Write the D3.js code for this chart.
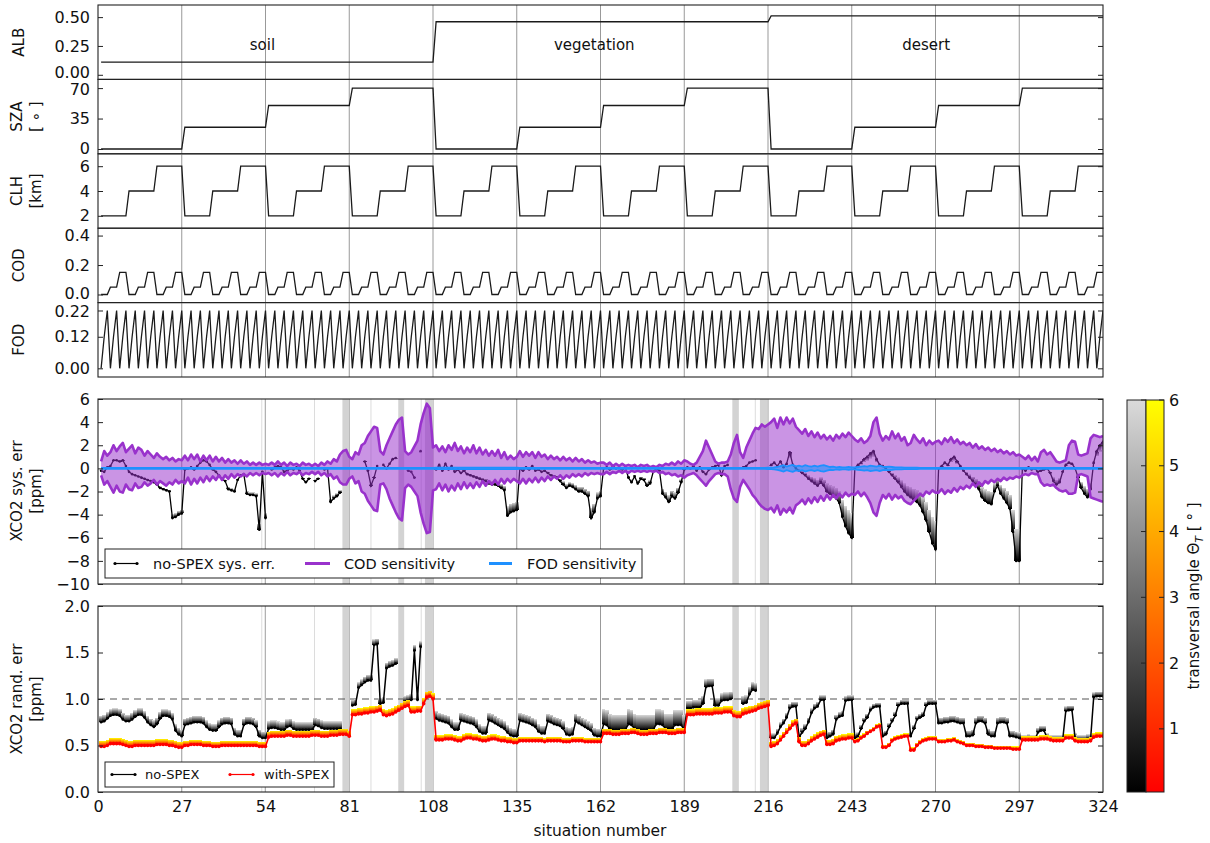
<!DOCTYPE html>
<html><head><meta charset="utf-8">
<script src="https://cdn.jsdelivr.net/npm/d3@7"></script>
<style>body{margin:0;background:#fff}svg{font-family:"DejaVu Sans",sans-serif}</style>
</head><body><svg id="c" width="1210" height="843"></svg>
<script>
// ---------------- DATA ----------------
const N = 324;
const situations = d3.range(1, N + 1);
const surfaceNames = ["soil", "vegetation", "desert"];
const surfaceLabelAt = [53, 160, 267];
const albedoLevels = [0.11, 0.46, 0.51];
const szaLevels = [0, 25, 50, 70];
const clhLevels = [2, 4, 6];
const codLevels = [0, 0.05, 0.15];
const fodLevels = [0, 0.12, 0.22];
const xTicks = [0, 27, 54, 81, 108, 135, 162, 189, 216, 243, 270, 297, 324];
const gridAt = [27, 54, 81, 108, 135, 162, 189, 216, 243, 270, 297];
const failBands = [[78.8, 81], [96.8, 98.7], [105.4, 108], [204.5, 206.6], [213.4, 215.8]];
const failLines = [52.8, 53.8, 69.8, 88, 104.2, 211.9];
const codOverlapRange = [97, 108];
const sysTicks = [6, 4, 2, 0, -2, -4, -6, -8, -10];
const randTicks = [0, 0.5, 1, 1.5, 2];
const cbTicks = [1, 2, 3, 4, 5, 6];

// XCO2 systematic error, no-SPEX, smallest transversal angle (ppm), 12 blocks of 27 situations
const sysNoSpex = [
 [-0.2,-0.3,0.1,0.2,0.7,0.7,0.6,0.7,0.2,-0.3,-0.5,-0.6,-0.7,-0.8,-0.9,-1.0,-1.1,-1.2,-1.4,-1.7,-1.8,-1.9,-2.0,-4.3,-4.2,-4.0,-3.9],
 [-0.1,0.0,0.1,-0.1,0.2,0.5,0.7,0.6,0.3,-0.1,-0.3,-0.6,-0.9,-1.1,-1.8,-1.9,-2.0,-1.0,-0.6,-0.5,-2.2,-2.3,-2.3,-2.4,-5.3,-0.3,-4.3],
 [null,-0.1,0.1,0.2,0.1,-0.3,-0.2,0.0,-0.1,0.1,-0.2,-0.9,-1.2,-0.9,null,-1.1,-0.9,null,-0.1,0.0,-2.9,-2.6,-2.4,-2.1,null,null,null],
 [null,null,null,null,0.6,-0.2,-1.5,-0.8,0.2,null,0.3,0.0,0.4,0.8,0.9,null,null,null,-0.2,-0.3,-0.8,null,1.5,null,null,null,null],
 [-0.1,0.3,-0.2,0.4,-0.1,0.2,-0.3,-0.1,-0.4,-0.2,-0.5,-0.6,-0.7,-0.8,-0.9,-1.0,-1.1,-1.3,-1.4,-1.4,-1.5,-1.7,-1.9,-4.1,-3.8,-3.7,-3.6],
 [0.0,-0.2,0.1,-0.1,0.2,-0.2,-0.1,-0.3,-0.2,-0.4,-0.6,-0.7,-0.8,-1.1,-1.4,-1.7,-1.5,-1.6,-1.8,-2.0,-2.0,-2.2,-2.4,-4.3,-3.8,-2.6,-2.4],
 [0.0,0.1,-0.1,0.2,0.0,0.1,-0.1,0.1,-0.8,-1.2,-0.7,-1.3,-0.9,-1.0,-1.5,-1.3,-0.3,0.0,-0.2,-2.2,-2.5,-2.9,-2.4,-2.6,-2.1,-1.2,-0.1],
 [0.1,0.0,0.2,-0.2,0.1,-0.3,-0.5,-0.1,0.1,0.2,0.3,-0.6,0.2,0.3,null,null,null,null,0.1,0.2,0.5,0.6,0.7,null,null,null,null],
 [0.3,0.5,0.2,0.6,0.1,0.4,1.4,0.3,0.0,-0.2,-0.4,-0.6,-0.9,-1.1,-1.3,-1.5,-1.2,-1.5,-2.0,-2.2,-2.4,-2.6,-3.0,-4.2,-5.0,-5.6,-6.0],
 [0.0,0.3,0.5,0.8,1.0,1.3,1.5,0.8,0.3,0.2,0.0,-0.3,-0.6,-0.9,-1.2,-1.6,-2.0,-2.3,-2.5,-2.7,-2.9,-3.2,-3.8,-4.5,-5.5,-6.5,-7.0],
 [0.0,0.2,0.5,0.3,0.8,1.0,0.6,0.2,-0.2,-0.5,-0.8,-1.1,-1.4,-1.8,-2.5,-2.8,-3.0,-3.1,-2.0,-1.5,-2.2,-2.6,-3.0,-3.5,-5.5,-8.0,-8.0],
 [0.0,-0.2,0.1,-0.1,0.0,-0.3,-0.2,-0.1,0.0,-0.4,-1.1,-1.4,-1.2,-0.3,0.3,0.5,0.4,0.0,-0.8,-1.7,-2.2,-2.5,-1.8,0.5,1.5,2.0,2.3]
];
// fraction of the sys. error that the largest transversal angle removes, per block
const sysNoSpexAngleShrink = [0.08,0.1,0.1,0.1,0.2,0.2,0.2,0.15,0.35,0.35,0.35,0.3];

// COD sensitivity band (ppm)
const codSensUpper = [
 [0.6,1.5,1.1,1.4,2.0,1.5,1.9,2.2,1.4,1.7,2.0,1.3,1.8,1.6,1.1,1.5,1.2,0.9,1.3,1.0,0.8,1.0,0.7,0.9,0.6,0.8,0.7],
 [1.1,0.7,1.2,0.8,1.2,0.6,1.1,0.7,1.1,0.6,1.0,0.6,0.9,0.5,0.8,0.5,0.7,0.4,0.7,0.4,0.6,0.3,0.5,0.3,0.5,0.3,0.4],
 [0.3,0.5,0.3,0.6,0.3,0.5,0.2,0.5,0.3,0.4,0.2,0.5,0.3,0.4,0.2,0.4,0.2,0.5,0.3,0.6,0.4,0.8,0.6,1.2,1.5,1.6,1.0],
 [0.8,1.4,1.2,2.0,2.2,2.8,3.2,3.6,3.5,1.5,1.2,2.0,2.6,3.2,3.8,4.2,4.4,1.5,1.2,1.4,1.9,2.4,3.8,4.8,5.6,5.2,1.8],
 [2.0,1.5,1.9,1.4,2.0,1.6,2.2,1.5,1.9,1.3,1.8,1.4,2.0,1.3,1.8,1.2,1.6,1.1,1.5,1.1,1.6,0.9,1.4,0.8,1.1,0.8,1.0],
 [1.5,1.0,1.4,1.1,1.4,0.9,1.4,1.0,1.2,0.8,1.1,0.8,1.0,0.7,1.0,0.7,0.9,0.6,0.9,0.6,0.8,0.5,0.7,0.5,0.6,0.4,0.5],
 [0.5,0.3,0.5,0.2,0.4,0.2,0.4,0.2,0.3,0.2,0.3,0.1,0.3,0.2,0.3,0.1,0.2,0.1,0.3,0.2,0.4,0.3,0.5,0.3,0.6,0.4,0.7],
 [0.6,0.4,0.3,0.5,1.0,1.5,2.4,1.8,1.2,0.6,0.4,0.5,0.5,0.6,1.2,2.2,2.9,1.4,0.9,1.8,2.4,3.0,3.5,3.4,3.8,3.6,3.8],
 [4.0,4.3,3.5,4.4,3.8,4.4,3.9,4.3,3.6,3.3,3.0,3.4,2.8,3.2,2.7,3.1,2.6,2.9,2.5,2.8,2.4,2.9,2.6,3.0,2.7,3.1,2.8],
 [2.5,2.3,2.6,2.2,2.4,2.8,4.0,4.4,3.0,2.4,2.8,2.5,3.2,2.6,3.0,2.4,2.7,2.0,2.2,2.9,2.5,2.2,2.6,2.0,2.4,2.1,2.3],
 [2.4,2.1,2.6,2.3,2.7,2.2,2.5,2.1,2.3,2.0,2.2,1.8,2.1,1.7,1.9,1.6,1.8,1.5,1.7,1.4,1.6,1.3,1.5,1.2,1.4,1.1,1.2],
 [1.0,0.8,1.1,0.7,1.0,0.6,1.4,1.6,1.2,1.4,1.0,0.6,0.5,0.6,0.7,2.0,2.4,2.3,1.2,1.1,1.2,1.3,2.6,2.9,2.8,2.7,2.8]
];
const codSensLower = [
 [-0.6,-1.4,-1.1,-1.6,-2.1,-1.5,-2.0,-2.1,-1.4,-1.8,-1.9,-1.3,-1.7,-1.6,-1.2,-1.5,-1.3,-1.0,-1.4,-1.1,-1.3,-1.5,-1.2,-1.4,-1.0,-1.3,-1.1],
 [-1.3,-0.8,-1.4,-0.9,-1.3,-0.8,-1.2,-0.7,-1.1,-0.7,-1.0,-0.6,-1.0,-0.6,-0.9,-0.5,-0.8,-0.5,-0.7,-0.5,-0.7,-0.4,-0.6,-0.4,-0.6,-0.4,-0.5],
 [-0.4,-0.6,-0.4,-0.7,-0.4,-0.6,-0.3,-0.6,-0.4,-0.5,-0.3,-0.6,-0.4,-0.5,-0.3,-0.5,-0.3,-0.6,-0.4,-0.7,-0.5,-0.9,-0.7,-1.2,-1.4,-1.4,-0.9],
 [-0.7,-1.3,-1.1,-2.0,-2.2,-2.8,-3.2,-3.6,-3.7,-1.4,-1.3,-1.8,-2.6,-3.2,-3.8,-4.3,-4.5,-1.7,-1.4,-1.6,-2.0,-2.4,-3.8,-4.8,-5.6,-5.5,-1.9],
 [-1.8,-1.3,-1.9,-1.4,-2.0,-1.5,-1.9,-1.3,-1.8,-1.2,-1.7,-1.3,-1.7,-1.2,-1.6,-1.1,-1.5,-1.1,-1.4,-1.0,-1.4,-0.9,-1.3,-0.9,-1.2,-0.9,-1.1],
 [-1.3,-0.9,-1.3,-0.9,-1.2,-0.8,-1.2,-0.8,-1.1,-0.7,-1.0,-0.7,-0.9,-0.6,-0.9,-0.6,-0.8,-0.5,-0.7,-0.5,-0.7,-0.4,-0.6,-0.4,-0.5,-0.4,-0.5],
 [-0.5,-0.3,-0.5,-0.3,-0.4,-0.2,-0.4,-0.2,-0.4,-0.2,-0.3,-0.2,-0.3,-0.2,-0.3,-0.2,-0.3,-0.2,-0.4,-0.3,-0.5,-0.4,-0.6,-0.5,-0.7,-0.6,-0.8],
 [-0.6,-0.5,-0.4,-0.6,-0.9,-1.2,-1.5,-1.1,-0.8,-0.5,-0.4,-0.5,-0.5,-0.7,-1.8,-2.6,-2.9,-1.6,-1.0,-1.4,-1.8,-2.3,-2.6,-3.0,-3.3,-3.5,-3.6],
 [-3.4,-3.8,-3.2,-4.0,-3.5,-3.8,-3.4,-3.9,-3.2,-3.0,-2.7,-3.1,-2.6,-3.0,-2.5,-2.9,-2.4,-2.8,-2.3,-2.7,-2.3,-2.6,-2.2,-2.5,-2.1,-2.4,-2.2],
 [-2.3,-2.0,-2.4,-2.1,-2.5,-3.0,-3.8,-4.1,-3.0,-2.3,-2.6,-2.2,-2.7,-2.3,-2.6,-2.4,-2.8,-3.0,-3.1,-2.8,-2.5,-2.2,-2.4,-2.0,-2.2,-1.9,-2.1],
 [-2.1,-1.8,-2.2,-1.9,-2.1,-1.7,-2.0,-1.6,-1.8,-1.5,-1.7,-1.3,-1.6,-1.2,-1.5,-1.1,-1.3,-1.0,-1.2,-0.9,-1.1,-0.8,-1.0,-0.8,-0.9,-0.7,-0.8],
 [-0.6,-0.5,-0.6,-0.4,-0.5,-0.5,-1.2,-1.5,-1.4,-1.5,-1.4,-1.7,-1.9,-2.0,-1.9,-2.2,-2.2,-2.1,-0.6,-0.5,-0.6,-0.7,-2.5,-2.6,-2.7,-2.8,-2.9]
];
// FOD sensitivity half-width (ppm)
const fodSensWidth = [
 [0.05,0.05,0.05,0.05,0.05,0.05,0.05,0.05,0.05,0.05,0.05,0.05,0.05,0.05,0.05,0.05,0.05,0.05,0.05,0.05,0.05,0.05,0.05,0.05,0.05,0.05,0.05],
 [0.05,0.05,0.05,0.05,0.05,0.05,0.05,0.05,0.05,0.05,0.05,0.05,0.05,0.05,0.05,0.05,0.05,0.05,0.05,0.05,0.05,0.05,0.05,0.05,0.05,0.05,0.05],
 [0.05,0.05,0.05,0.05,0.05,0.05,0.05,0.05,0.05,0.05,0.05,0.05,0.05,0.05,0.05,0.05,0.05,0.05,0.05,0.05,0.05,0.05,0.05,0.05,0.05,0.05,0.05],
 [0.05,0.05,0.05,0.05,0.05,0.05,0.05,0.05,0.05,0.05,0.05,0.05,0.05,0.05,0.05,0.05,0.05,0.05,0.05,0.05,0.05,0.05,0.05,0.05,0.05,0.05,0.05],
 [0.06,0.06,0.06,0.06,0.06,0.06,0.06,0.06,0.06,0.06,0.06,0.06,0.06,0.06,0.06,0.06,0.06,0.06,0.06,0.06,0.06,0.06,0.06,0.06,0.06,0.06,0.06],
 [0.05,0.05,0.05,0.05,0.05,0.05,0.05,0.05,0.05,0.05,0.05,0.05,0.05,0.05,0.05,0.05,0.05,0.05,0.05,0.05,0.05,0.05,0.05,0.05,0.05,0.05,0.05],
 [0.05,0.05,0.05,0.05,0.05,0.05,0.05,0.05,0.05,0.05,0.05,0.05,0.05,0.05,0.05,0.05,0.05,0.05,0.05,0.05,0.05,0.05,0.05,0.05,0.05,0.05,0.05],
 [0.05,0.05,0.05,0.05,0.05,0.05,0.05,0.05,0.05,0.05,0.05,0.05,0.05,0.05,0.05,0.05,0.05,0.05,0.05,0.05,0.05,0.05,0.05,0.05,0.05,0.05,0.07],
 [0.07,0.08,0.12,0.2,0.28,0.15,0.24,0.3,0.18,0.24,0.15,0.28,0.2,0.15,0.24,0.15,0.24,0.28,0.2,0.12,0.15,0.08,0.12,0.08,0.08,0.12,0.08],
 [0.08,0.12,0.16,0.2,0.15,0.24,0.2,0.15,0.24,0.15,0.12,0.15,0.12,0.08,0.08,0.08,0.07,0.07,0.06,0.06,0.06,0.05,0.05,0.05,0.05,0.05,0.05],
 [0.05,0.05,0.05,0.05,0.05,0.05,0.05,0.05,0.05,0.05,0.05,0.05,0.05,0.05,0.05,0.05,0.05,0.05,0.05,0.05,0.05,0.05,0.05,0.05,0.05,0.05,0.05],
 [0.05,0.05,0.05,0.05,0.05,0.05,0.05,0.05,0.05,0.05,0.05,0.05,0.05,0.05,0.05,0.05,0.05,0.05,0.05,0.05,0.05,0.05,0.05,0.05,0.05,0.05,0.05]
];

// XCO2 random error (ppm), smallest transversal angle
const randNoSpex = [
 [0.75,0.76,0.79,0.82,0.83,0.83,0.82,0.78,0.76,0.76,0.78,0.81,0.83,0.83,0.80,0.75,0.72,0.70,0.73,0.79,0.82,0.82,0.81,0.78,0.66,0.62,0.60],
 [0.72,0.73,0.74,0.75,0.75,0.75,0.74,0.70,0.67,0.66,0.66,0.70,0.73,0.74,0.74,0.73,0.62,0.60,0.60,0.72,0.74,0.74,0.73,0.70,0.60,0.58,0.58],
 [0.68,0.69,0.69,0.68,0.67,0.67,0.70,0.71,0.68,0.67,0.67,0.67,0.67,0.67,0.67,0.72,0.71,0.69,0.68,0.68,0.68,0.68,0.68,0.68,null,null,null],
 [0.93,0.94,1.12,1.15,1.18,1.20,1.20,1.58,1.59,0.95,0.96,1.33,1.35,1.36,1.38,null,null,0.97,0.98,0.99,1.52,0.99,1.56,null,null,null,null],
 [0.79,0.77,0.76,0.75,0.74,0.70,0.67,0.67,0.77,0.76,0.75,0.74,0.73,0.70,0.65,0.63,0.63,0.77,0.76,0.74,0.72,0.70,0.68,0.64,0.61,0.60,0.60],
 [0.77,0.76,0.75,0.74,0.72,0.70,0.65,0.63,0.63,0.76,0.75,0.73,0.72,0.71,0.68,0.62,0.61,0.62,0.76,0.74,0.72,0.70,0.68,0.66,0.61,0.60,0.60],
 [0.73,0.72,0.68,0.67,0.67,0.67,0.67,0.67,0.73,0.72,0.68,0.67,0.67,0.67,0.67,0.67,0.67,0.73,0.73,0.72,0.68,0.68,0.68,0.72,0.72,0.72,0.67],
 [0.90,0.90,0.91,0.91,0.91,0.95,1.13,1.14,1.14,0.93,0.93,0.98,0.99,0.99,1.00,null,null,null,0.95,0.96,1.05,1.10,1.09,null,null,null,null],
 [0.58,0.58,0.63,0.70,0.74,0.80,0.90,0.92,0.92,0.59,0.64,0.68,0.75,0.85,0.90,0.92,0.99,0.99,0.58,0.60,0.62,0.78,0.81,0.82,0.98,0.99,0.99],
 [0.58,0.60,0.68,0.76,0.80,0.88,0.91,0.92,0.92,0.60,0.62,0.70,0.76,0.82,0.93,0.95,0.95,0.95,0.60,0.68,0.78,0.80,0.82,0.93,0.95,0.95,0.95],
 [0.74,0.74,0.75,0.75,0.76,0.76,0.75,0.74,0.74,0.60,0.60,0.61,0.74,0.76,0.76,0.74,0.62,0.60,0.60,0.74,0.75,0.75,0.74,0.60,0.60,0.59,0.58],
 [0.56,0.56,0.57,0.56,0.56,0.64,0.66,0.66,0.58,0.56,0.56,0.56,0.56,0.56,0.87,0.88,0.88,0.58,0.56,0.56,0.56,0.57,0.57,1.02,1.03,1.03,1.03]
];
const randNoSpexAngleSpread = [0.07,0.07,0.08,0.06,0.08,0.08,0.16,0.08,0.05,0.04,0.06,0.05];
const randWithSpex = [
 [0.49,0.49,0.50,0.52,0.52,0.52,0.52,0.51,0.50,0.49,0.49,0.50,0.50,0.50,0.50,0.50,0.50,0.50,0.51,0.51,0.51,0.51,0.50,0.50,0.49,0.48,0.48],
 [0.50,0.50,0.51,0.51,0.51,0.51,0.50,0.50,0.50,0.49,0.49,0.49,0.50,0.50,0.50,0.50,0.50,0.50,0.50,0.50,0.50,0.50,0.50,0.50,0.49,0.49,0.49],
 [0.59,0.60,0.60,0.60,0.60,0.60,0.61,0.61,0.60,0.60,0.60,0.60,0.60,0.60,0.61,0.61,0.61,0.60,0.60,0.60,0.61,0.61,0.61,0.62,0.62,0.62,0.60],
 [0.83,0.83,0.84,0.84,0.85,0.85,0.86,0.86,0.87,0.88,0.83,0.82,0.83,0.84,0.86,0.88,0.90,0.92,0.93,0.86,0.86,0.87,0.87,0.95,1.02,1.03,1.00],
 [0.56,0.56,0.56,0.57,0.57,0.57,0.56,0.55,0.55,0.57,0.58,0.58,0.57,0.57,0.56,0.55,0.55,0.56,0.57,0.57,0.56,0.55,0.55,0.54,0.54,0.53,0.53],
 [0.55,0.55,0.55,0.55,0.55,0.55,0.55,0.55,0.54,0.55,0.55,0.55,0.55,0.55,0.54,0.54,0.54,0.55,0.55,0.55,0.55,0.54,0.54,0.54,0.54,0.54,0.54],
 [0.63,0.63,0.63,0.62,0.62,0.62,0.63,0.63,0.63,0.64,0.64,0.63,0.62,0.62,0.62,0.63,0.63,0.63,0.64,0.64,0.64,0.63,0.63,0.63,0.64,0.64,0.64],
 [0.83,0.83,0.83,0.84,0.84,0.84,0.84,0.84,0.84,0.85,0.85,0.85,0.86,0.86,0.86,0.82,0.81,0.81,0.84,0.85,0.86,0.87,0.88,0.90,0.91,0.92,0.93],
 [0.49,0.50,0.52,0.56,0.60,0.64,0.68,0.72,0.74,0.54,0.50,0.50,0.52,0.55,0.57,0.59,0.61,0.62,0.51,0.51,0.52,0.55,0.56,0.57,0.57,0.58,0.58],
 [0.54,0.55,0.58,0.60,0.63,0.65,0.67,0.70,0.71,0.48,0.48,0.50,0.55,0.57,0.58,0.59,0.60,0.60,0.45,0.45,0.50,0.53,0.55,0.56,0.57,0.57,0.57],
 [0.54,0.54,0.54,0.55,0.55,0.56,0.54,0.53,0.52,0.50,0.50,0.50,0.49,0.49,0.49,0.48,0.48,0.48,0.47,0.47,0.47,0.47,0.47,0.47,0.46,0.46,0.46],
 [0.56,0.56,0.56,0.56,0.56,0.56,0.57,0.57,0.57,0.56,0.55,0.55,0.55,0.55,0.58,0.58,0.58,0.55,0.54,0.54,0.54,0.54,0.55,0.59,0.60,0.60,0.60]
];
const randWithSpexAngleSpread = [0.06,0.05,0.06,0.06,0.05,0.04,0.05,0.06,0.05,0.03,0.03,0.04];

// ---------------- DRAWING ----------------
const svg = d3.select("#c");
const X0 = 98, X1 = 1103;
const x = d3.scaleLinear().domain([0, 324]).range([X0, X1]);
const blockOf = s => Math.floor((s - 1) / 27);
const perSit = arr => arr.flat();
const design = situations.map(s => {
  const i = s - 1;
  return { s, alb: albedoLevels[Math.floor(i / 108)], sza: szaLevels[Math.floor(i / 27) % 4],
    clh: clhLevels[Math.floor(i / 9) % 3], cod: codLevels[Math.floor(i / 3) % 3], fod: fodLevels[i % 3] };
});
const defs = svg.append("defs");
function grad(id, c0, c1, up) {
  const g = defs.append("linearGradient").attr("id", id).attr("x1", 0).attr("x2", 0)
    .attr("y1", up ? 1 : 0).attr("y2", up ? 0 : 1);
  g.append("stop").attr("offset", 0).attr("stop-color", c0);
  g.append("stop").attr("offset", 1).attr("stop-color", c1);
}
const GRAY0 = "#000000", GRAY1 = "#dadada", AUT0 = "#ff0000", AUT1 = "#ffff00";
grad("gUp", GRAY0, GRAY1, true); grad("gDn", GRAY0, GRAY1, false);
grad("aUp", AUT0, AUT1, true); grad("aDn", AUT0, AUT1, false);

let clipN = 0;
function makePanel(top, h, domain) {
  const y = d3.scaleLinear().domain(domain).range([top + h, top]);
  const id = "clip" + (clipN++);
  defs.append("clipPath").attr("id", id).append("rect").attr("x", X0).attr("y", top).attr("width", X1 - X0).attr("height", h);
  const g = svg.append("g").attr("clip-path", `url(#${id})`);
  return { y, g, top, h };
}
function frameAndTicks(p, ticks, fmt, tickLen, labelShift) {
  svg.append("g").attr("transform", `translate(${X0},0)`)
    .call(d3.axisLeft(p.y).tickValues(ticks).tickFormat(fmt).tickSizeInner(-tickLen).tickSizeOuter(0).tickPadding(8))
    .call(g => g.select(".domain").remove())
    .call(g => g.selectAll("line").attr("stroke", "#222"))
    .call(g => g.selectAll("text").attr("font-size", 16).attr("fill", "#111").attr("font-family", "DejaVu Sans")
      .attr("transform", d => labelShift && labelShift[d] ? `translate(0,${labelShift[d]})` : null));
  svg.append("g").attr("transform", `translate(${X1},0)`)
    .call(d3.axisRight(p.y).tickValues(ticks).tickFormat("").tickSizeInner(-tickLen).tickSizeOuter(0))
    .call(g => g.select(".domain").remove())
    .call(g => g.selectAll("line").attr("stroke", "#222"));
  svg.append("rect").attr("x", X0).attr("y", p.top).attr("width", X1 - X0).attr("height", p.h)
    .attr("fill", "none").attr("stroke", "#222").attr("stroke-width", 1.1);
}
function grid(p) {
  p.g.selectAll(".grid").data(gridAt).join("line").attr("x1", d => x(d)).attr("x2", d => x(d))
    .attr("y1", p.top).attr("y2", p.top + p.h).attr("stroke", "#999").attr("stroke-width", 1);
}
function failures(p) {
  p.g.selectAll(".fl").data(failLines).join("line").attr("x1", d => x(d)).attr("x2", d => x(d))
    .attr("y1", p.top).attr("y2", p.top + p.h).attr("stroke", "#dcdcdc").attr("stroke-width", 1);
  p.g.selectAll(".fb").data(failBands).join("rect").attr("x", d => x(d[0])).attr("width", d => x(d[1]) - x(d[0]))
    .attr("y", p.top).attr("height", p.h).attr("fill", "#d3d3d3");
}
function ylabel(lines, cy) {
  const bx = lines.length === 1 ? [24] : [22, 41];
  lines.forEach((t, i) => svg.append("text").attr("transform", `translate(${bx[i]},${cy}) rotate(-90)`)
    .attr("text-anchor", "middle").attr("font-size", 15).attr("fill", "#111").text(t));
}

// ---- top parameter panels ----
const topPanels = [
  { key: "alb", label: ["ALB"], domain: [-0.04, 0.605], ticks: [0, 0.25, 0.5], fmt: d3.format(".2f"), shift: { 0: -2.5 } },
  { key: "sza", label: ["SZA", "[ ∘ ]"], domain: [-5.5, 80], ticks: [0, 35, 70], fmt: d3.format("d"), shift: { 70: 1, 0: -1 } },
  { key: "clh", label: ["CLH", "[km]"], domain: [1, 7], ticks: [2, 4, 6], fmt: d3.format("d"), shift: {} },
  { key: "cod", label: ["COD"], domain: [-0.055, 0.45], ticks: [0, 0.2, 0.4], fmt: d3.format(".1f"), shift: { 0: -1.5 } },
  { key: "fod", label: ["FOD"], domain: [-0.033, 0.25], ticks: [0, 0.12, 0.22], fmt: d3.format(".2f"), shift: { 0.22: 1 } }
];
const TOP0 = 5, TH = 74.4;
topPanels.forEach((cfg, k) => {
  const p = makePanel(TOP0 + k * TH, TH, cfg.domain);
  grid(p);
  p.g.append("path").datum(design)
    .attr("d", d3.line().x(d => x(d.s)).y(d => p.y(d[cfg.key])))
    .attr("fill", "none").attr("stroke", "#1a1a1a").attr("stroke-width", 1.3);
  if (k === 0) {
    surfaceNames.forEach((n, j) => svg.append("text").attr("x", x(surfaceLabelAt[j])).attr("y", 50)
      .attr("text-anchor", "middle").attr("font-size", 15).attr("fill", "#111").text(n));
  }
  frameAndTicks(p, cfg.ticks, cfg.fmt, 5, cfg.shift);
  ylabel(cfg.label, TOP0 + k * TH + TH / 2);
});

// helpers for angle-coloured series
function angleRects(p, base, top, gUp, gDn) {
  const d = situations.map((s, i) => ({ s, b: base[i], t: top[i] })).filter(d => d.b != null);
  p.g.append("g").attr("shape-rendering", "crispEdges").selectAll("rect").data(d).join("rect")
    .attr("x", d => x(d.s) - 1.8).attr("width", 3.6)
    .attr("y", d => Math.min(p.y(d.b), p.y(d.t))).attr("height", d => Math.max(0.01, Math.abs(p.y(d.b) - p.y(d.t))))
    .attr("fill", d => p.y(d.t) < p.y(d.b) ? `url(#${gUp})` : `url(#${gDn})`);
}
function baseLine(p, base, color, r, w) {
  const d = situations.map((s, i) => ({ s, v: base[i] }));
  p.g.append("path").datum(d)
    .attr("d", d3.line().defined(d => d.v != null).x(d => x(d.s)).y(d => p.y(d.v)))
    .attr("fill", "none").attr("stroke", color).attr("stroke-width", w);
  p.g.append("g").selectAll("circle").data(d.filter(d => d.v != null)).join("circle")
    .attr("cx", d => x(d.s)).attr("cy", d => p.y(d.v)).attr("r", r).attr("fill", color);
}

// ---- systematic error panel ----
const sysP = makePanel(399, 185, [-10, 6]);
grid(sysP); failures(sysP);
const sysBase = perSit(sysNoSpex);
const sysTop = sysBase.map((v, i) => v == null ? null : v * (1 - sysNoSpexAngleShrink[blockOf(i + 1)]));
angleRects(sysP, sysBase, sysTop, "gUp", "gDn");
baseLine(sysP, sysBase, "#000", 1.3, 1.3);
const cu = perSit(codSensUpper), cl = perSit(codSensLower);
const codD = situations.map((s, i) => ({ s, u: cu[i], l: cl[i] }));
const codArea = d3.area().x(d => x(d.s)).y0(d => sysP.y(d.l)).y1(d => sysP.y(d.u));
sysP.g.append("path").datum(codD).attr("d", codArea).attr("fill", "#9932cc").attr("fill-opacity", 0.52);
// overlapping (double-filled) part of the COD band
sysP.g.append("path").datum(codD.filter(d => d.s >= codOverlapRange[0] && d.s <= codOverlapRange[1]))
  .attr("d", codArea).attr("fill", "#9932cc").attr("fill-opacity", 0.25);
["u", "l"].forEach(k => sysP.g.append("path").datum(codD).attr("d", d3.line().x(d => x(d.s)).y(d => sysP.y(d[k])))
  .attr("fill", "none").attr("stroke", "#9932cc").attr("stroke-width", 2.6).attr("stroke-linejoin", "round"));
const fw = perSit(fodSensWidth);
const fodD = situations.map((s, i) => ({ s, w: fw[i] }));
sysP.g.append("path").datum(fodD).attr("d", d3.area().x(d => x(d.s)).y0(d => sysP.y(-d.w)).y1(d => sysP.y(d.w)))
  .attr("fill", "#1e90ff").attr("fill-opacity", 0.6);
[1, -1].forEach(sg => sysP.g.append("path").datum(fodD).attr("d", d3.line().x(d => x(d.s)).y(d => sysP.y(sg * d.w)))
  .attr("fill", "none").attr("stroke", "#1e90ff").attr("stroke-width", 1.8));
frameAndTicks(sysP, sysTicks, d3.format("d"), 5);
ylabel(["XCO2 sys. err", "[ppm]"], 491);

// legend (sys)
const lg1 = svg.append("g");
lg1.append("rect").attr("x", 105).attr("y", 549).attr("width", 537).attr("height", 29).attr("fill", "#fff").attr("stroke", "#222");
const LY1 = 563.5;
lg1.append("line").attr("x1", 115).attr("x2", 137).attr("y1", LY1).attr("y2", LY1).attr("stroke", "#000").attr("stroke-width", 1.2);
[115, 137].forEach(cx => lg1.append("circle").attr("cx", cx).attr("cy", LY1).attr("r", 1.6).attr("fill", "#000"));
lg1.append("line").attr("x1", 305).attr("x2", 330).attr("y1", LY1).attr("y2", LY1).attr("stroke", "#9932cc").attr("stroke-width", 3);
lg1.append("line").attr("x1", 489).attr("x2", 512).attr("y1", LY1).attr("y2", LY1).attr("stroke", "#1e90ff").attr("stroke-width", 3);
[["no-SPEX sys. err.", 153], ["COD sensitivity", 344], ["FOD sensitivity", 527]].forEach(([t, tx]) =>
  lg1.append("text").attr("x", tx).attr("y", LY1).attr("dy", "0.35em").attr("font-size", 14.5).attr("fill", "#111").text(t));

// ---- random error panel ----
const randP = makePanel(606, 186, [0, 2]);
grid(randP); failures(randP);
randP.g.append("line").attr("x1", X0).attr("x2", X1).attr("y1", randP.y(1)).attr("y2", randP.y(1))
  .attr("stroke", "#555").attr("stroke-width", 1.2).attr("stroke-dasharray", "7,5");
const rnB = perSit(randNoSpex);
const rnT = rnB.map((v, i) => v == null ? null : v + randNoSpexAngleSpread[blockOf(i + 1)]);
angleRects(randP, rnB, rnT, "gUp", "gDn");
baseLine(randP, rnB, "#000", 1.3, 1.5);
const rwB = perSit(randWithSpex);
const rwT = rwB.map((v, i) => v + randWithSpexAngleSpread[blockOf(i + 1)]);
angleRects(randP, rwB, rwT, "aUp", "aDn");
baseLine(randP, rwB, "#ff0000", 1.8, 1.6);
frameAndTicks(randP, randTicks, d3.format(".1f"), 5);
ylabel(["XCO2 rand. err", "[ppm]"], 699);

// x axis
svg.append("g").attr("transform", `translate(0,792)`)
  .call(d3.axisBottom(x).tickValues(xTicks).tickFormat(d3.format("d")).tickSize(0).tickPadding(9))
  .call(g => g.select(".domain").remove())
  .call(g => g.selectAll("text").attr("font-size", 16).attr("fill", "#111").attr("font-family", "DejaVu Sans"));
svg.append("text").attr("x", 600).attr("y", 836).attr("text-anchor", "middle").attr("font-size", 15.5).attr("fill", "#111").text("situation number");

// legend (rand)
const lg2 = svg.append("g");
lg2.append("rect").attr("x", 105).attr("y", 762).attr("width", 229).attr("height", 25).attr("fill", "#fff").attr("stroke", "#222");
const LY2 = 774.5;
[[112, 135, "#000"], [230, 253, "#ff0000"]].forEach(([a, b, c]) => {
  lg2.append("line").attr("x1", a).attr("x2", b).attr("y1", LY2).attr("y2", LY2).attr("stroke", c).attr("stroke-width", 1.2);
  [a, b].forEach(cx => lg2.append("circle").attr("cx", cx).attr("cy", LY2).attr("r", 1.6).attr("fill", c));
});
[["no-SPEX", 145], ["with-SPEX", 264]].forEach(([t, tx]) =>
  lg2.append("text").attr("x", tx).attr("y", LY2).attr("dy", "0.35em").attr("font-size", 13).attr("fill", "#111").text(t));

// ---- colorbars ----
const cbY = d3.scaleLinear().domain([0.04, 6]).range([792, 400]);
svg.append("rect").attr("x", 1127).attr("y", 400).attr("width", 19).attr("height", 392).attr("fill", "url(#gUp)").attr("stroke", "#222");
svg.append("rect").attr("x", 1146).attr("y", 400).attr("width", 18).attr("height", 392).attr("fill", "url(#aUp)").attr("stroke", "#222");
cbTicks.forEach(t => {
  [1146, 1164].forEach(ex => svg.append("line").attr("x1", ex - 5).attr("x2", ex).attr("y1", cbY(t)).attr("y2", cbY(t)).attr("stroke", "#222"));
  svg.append("text").attr("x", 1169).attr("y", cbY(t)).attr("dy", "0.35em").attr("font-size", 16).attr("fill", "#111").text(t);
});
const cbl = svg.append("text").attr("transform", "translate(1199,596) rotate(-90)").attr("text-anchor", "middle")
  .attr("font-size", 15).attr("fill", "#111");
cbl.append("tspan").text("transversal angle Θ");
cbl.append("tspan").attr("font-style", "italic").attr("font-size", 11).attr("dy", 4).text("T");
cbl.append("tspan").attr("dy", -4).text(" [ ° ]");
</script></body></html>
